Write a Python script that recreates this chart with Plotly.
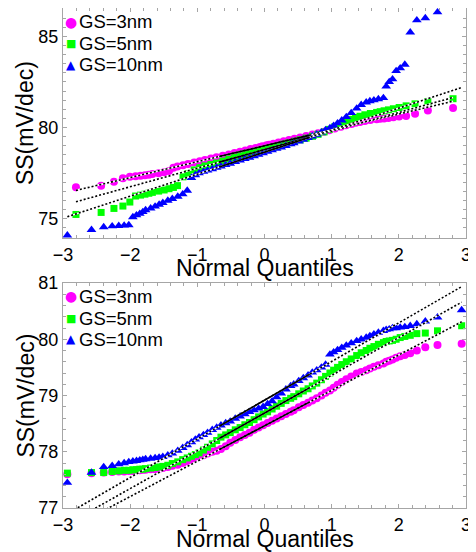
import numpy as np
import plotly.graph_objects as go
from statistics import NormalDist

ND = NormalDist()

# ranks (order statistics) of the plotted points, samples of 200 and 300 devices
RANKS_200 = [1, 2, 3, 4, 5, 6, 7, 8, 9, 10,
             12, 14, 16, 18, 20, 23, 26, 30, 34, 38, 43, 48, 54, 60, 66, 72, 78, 84, 90, 95,
             98, 103,
             106, 111, 117, 123, 129, 135, 141, 147, 153, 158, 163, 167, 171, 175, 178, 181, 183, 185, 187, 189,
             191, 192, 193, 194, 195, 196, 197, 198, 199, 200]
RANKS_300 = [1, 2, 3, 4, 5, 6, 7, 8, 9, 10, 11, 12,
             14, 16, 18, 20, 23, 26, 30, 34, 38, 42, 46, 50, 55, 60, 66, 72, 78, 85, 92, 100,
             108, 116, 124, 132, 140, 148, 156, 164, 172, 180, 188, 196,
             201, 209, 216, 223, 229, 235, 241, 246, 251, 255, 259, 263, 267, 271, 275, 278, 281, 283, 285, 287,
             289, 290, 291, 292, 293, 294, 295, 296, 297, 298, 299, 300]

# ---- top panel: sorted SS values (mV/dec) ----
TOP_3NM = [76.73, 76.81, 77.03, 77.22, 77.30, 77.33, 77.36, 77.39, 77.42, 77.45,
           77.50, 77.55, 77.62, 77.80, 77.87, 77.94, 78.00, 78.08, 78.16, 78.22, 78.30, 78.38, 78.46, 78.53, 78.60, 78.68, 78.75, 78.82, 78.88, 78.94,
           78.97, 79.03,
           79.06, 79.11, 79.18, 79.25, 79.32, 79.39, 79.46, 79.54, 79.62, 79.69, 79.77, 79.85, 79.95, 80.05, 80.12, 80.20, 80.26, 80.31, 80.36, 80.41,
           80.45, 80.48, 80.50, 80.53, 80.56, 80.60, 80.64, 80.75, 80.93, 81.07]
TOP_5NM = [75.24, 75.35, 75.57, 75.70, 75.92, 76.25, 76.30, 76.35, 76.40, 76.45,
           76.52, 76.58, 76.65, 76.72, 76.82, 77.30, 77.48, 77.68, 77.80, 77.90, 77.98, 78.06, 78.17, 78.27, 78.36, 78.45, 78.53, 78.60, 78.68, 78.74,
           78.77, 78.83,
           78.87, 78.93, 79.01, 79.09, 79.17, 79.25, 79.33, 79.42, 79.52, 79.63, 79.76, 79.90, 80.05, 80.20, 80.32, 80.45, 80.55, 80.62, 80.70, 80.77,
           80.83, 80.87, 80.92, 80.97, 81.03, 81.10, 81.19, 81.30, 81.43, 81.58]
TOP_10NM = [74.10, 74.40, 74.55, 74.60, 74.62, 74.64, 74.66, 75.10, 75.20, 75.28, 75.38, 75.48,
            75.58, 75.68, 75.78, 75.88, 76.00, 76.10, 76.22, 76.35, 76.55, 77.25, 77.40, 77.50, 77.58, 77.65, 77.73, 77.80, 77.87, 77.95, 78.03, 78.12,
            78.20, 78.28, 78.36, 78.44, 78.52, 78.60, 78.68, 78.76, 78.84, 78.92, 79.00, 79.09,
            79.15, 79.25, 79.34, 79.43, 79.52, 79.62, 79.74, 79.86, 79.98, 80.10, 80.24, 80.40, 80.58, 80.80, 81.05, 81.25, 81.38, 81.45, 81.50, 81.56,
            81.62, 82.25, 82.50, 82.65, 83.10, 83.25, 83.45, 85.22, 85.88, 86.00, 86.32, 87.60]

# ---- bottom panel ----
BOT_3NM = [77.60, 77.62, 77.63, 77.64, 77.65, 77.65, 77.66, 77.66, 77.67, 77.67, 77.68, 77.68,
           77.69, 77.69, 77.70, 77.71, 77.73, 77.75, 77.77, 77.80, 77.83, 77.86, 77.89, 77.91, 77.94, 77.97, 78.00, 78.02, 78.05, 78.10, 78.16, 78.21,
           78.26, 78.30, 78.34, 78.39, 78.43, 78.47, 78.51, 78.55, 78.59, 78.63, 78.67, 78.71,
           78.74, 78.79, 78.83, 78.87, 78.91, 78.95, 79.00, 79.05, 79.09, 79.14, 79.19, 79.24, 79.29, 79.34, 79.39, 79.42, 79.45, 79.48, 79.51, 79.54,
           79.57, 79.60, 79.62, 79.64, 79.67, 79.70, 79.72, 79.75, 79.80, 79.86, 79.90, 79.92]
BOT_5NM = [77.62, 77.63, 77.63, 77.65, 77.66, 77.67, 77.67, 77.68, 77.68, 77.69, 77.69, 77.70,
           77.71, 77.72, 77.73, 77.74, 77.76, 77.79, 77.82, 77.86, 77.89, 77.92, 77.95, 77.98, 78.03, 78.08, 78.14, 78.20, 78.26, 78.30, 78.34, 78.39,
           78.43, 78.48, 78.52, 78.57, 78.62, 78.67, 78.71, 78.76, 78.81, 78.86, 78.91, 78.95,
           78.98, 79.03, 79.08, 79.12, 79.17, 79.22, 79.28, 79.34, 79.40, 79.45, 79.50, 79.55, 79.60, 79.65, 79.71, 79.76, 79.80, 79.84, 79.87, 79.91,
           79.94, 79.96, 79.97, 79.98, 80.00, 80.03, 80.05, 80.07, 80.10, 80.11, 80.15, 80.24]
BOT_10NM = [77.45, 77.63, 77.73, 77.75, 77.78, 77.80, 77.82, 77.83, 77.84, 77.85, 77.86, 77.87,
            77.88, 77.89, 77.90, 77.91, 77.94, 77.97, 78.02, 78.07, 78.12, 78.17, 78.22, 78.26, 78.30, 78.34, 78.39, 78.43, 78.47, 78.51, 78.54, 78.59,
            78.63, 78.67, 78.71, 78.74, 78.77, 78.80, 78.85, 78.90, 78.97, 79.04, 79.11, 79.17,
            79.20, 79.26, 79.31, 79.36, 79.41, 79.45, 79.50, 79.55, 79.73, 79.77, 79.81, 79.85, 79.89, 79.93, 79.97, 80.00, 80.03, 80.06, 80.09, 80.12,
            80.15, 80.17, 80.18, 80.20, 80.20, 80.21, 80.22, 80.24, 80.27, 80.32, 80.39, 80.52]

SERIES_NAMES = ["GS=3nm", "GS=5nm", "GS=10nm"]
X_TITLE = "Normal Quantiles"
Y_TITLE = "SS(mV/dec)"
COLORS = ["#ff00ff", "#00ff00", "#0000ff"]
SYMBOLS = ["circle", "square", "triangle-up"]
SIZES = [8, 7, 8.5]
GLYPHS = ["\u25cf", "\u25a0", "\u25b2"]
GLYPH_SIZES = [14, 11, 12]

FONT = "Liberation Sans, Arial, Helvetica, sans-serif"
GRAY = "#a6a6a6"

panels = [
    ("x", "y", [(TOP_3NM, RANKS_200, 200), (TOP_5NM, RANKS_200, 200), (TOP_10NM, RANKS_300, 300)]),
    ("x2", "y2", [(BOT_3NM, RANKS_300, 300), (BOT_5NM, RANKS_300, 300), (BOT_10NM, RANKS_300, 300)]),
]


def normal_quantiles(ranks, n):
    return [ND.inv_cdf((r - 0.5) / n) for r in ranks]


fig = go.Figure()
for xa, ya, sets in panels:
    for k, (vals, ranks, n) in enumerate(sets):
        assert len(vals) == len(ranks)
        fig.add_trace(go.Scatter(
            x=normal_quantiles(ranks, n), y=vals, mode="markers", name=SERIES_NAMES[k],
            marker=dict(symbol=SYMBOLS[k], size=SIZES[k], color=COLORS[k], line=dict(width=0)),
            xaxis=xa, yaxis=ya, showlegend=False, hoverinfo="skip"))
    for vals, ranks, n in sets:
        # reference line through the first and third quartiles (as qqplot does)
        q1y, q3y = np.interp([0.25 * n + 0.5, 0.75 * n + 0.5], ranks, vals)
        q1x, q3x = ND.inv_cdf(0.25), ND.inv_cdf(0.75)
        slope = (q3y - q1y) / (q3x - q1x)
        ext_x = [ND.inv_cdf((ranks[0] - 0.5) / n), ND.inv_cdf((ranks[-1] - 0.5) / n)]
        ext_y = [q1y + slope * (xx - q1x) for xx in ext_x]
        fig.add_trace(go.Scatter(x=ext_x, y=ext_y, mode="lines", line=dict(color="white", width=1.6),
                                 xaxis=xa, yaxis=ya, showlegend=False, hoverinfo="skip"))
        fig.add_trace(go.Scatter(x=[q1x, q3x], y=[q1y, q3y], mode="lines", line=dict(color="black", width=1.6),
                                 xaxis=xa, yaxis=ya, showlegend=False, hoverinfo="skip"))
        fig.add_trace(go.Scatter(x=ext_x, y=ext_y, mode="lines",
                                 line=dict(color="black", width=1.6, dash="2px,2px"),
                                 xaxis=xa, yaxis=ya, showlegend=False, hoverinfo="skip"))

axis_common = dict(
    automargin=False,
    showline=True, linecolor=GRAY, linewidth=1, mirror="ticks",
    ticks="inside", ticklen=4, tickcolor=GRAY, tickwidth=1,
    showgrid=False, zeroline=False,
    tickfont=dict(family=FONT, size=18, color="black"),
)


def minor(step):
    return dict(dtick=step, ticks="inside", ticklen=3, tickcolor=GRAY, showgrid=False)


# the page adds an 8px body margin, so the figure is 8px smaller than the window
fig.update_layout(
    width=468, height=544,
    margin=dict(l=55, r=10, t=0, b=44, autoexpand=False),
    paper_bgcolor="white", plot_bgcolor="white",
    showlegend=False,
    xaxis=dict(domain=[0, 1], anchor="y", range=[-3, 3], dtick=1, minor=minor(0.2), **axis_common),
    yaxis=dict(domain=[0.54, 1], anchor="x", range=[73.95, 86.55], dtick=5, minor=minor(0.5), **axis_common),
    xaxis2=dict(domain=[0, 1], anchor="y2", range=[-3, 3], dtick=1, minor=minor(0.2), **axis_common),
    yaxis2=dict(domain=[0, 0.45], anchor="x2", range=[77, 81], dtick=1, minor=minor(0.2), **axis_common),
)

annotations = []
# axis titles of both panels
for yy in (0.481, -0.061):
    annotations.append(dict(xref="paper", yref="paper", x=0.5, y=yy, xanchor="center", yanchor="middle",
                            text=X_TITLE, showarrow=False, font=dict(family=FONT, size=23, color="black")))
for yy in (0.77, 0.225):
    annotations.append(dict(xref="paper", yref="paper", x=-0.094, y=yy, xanchor="center", yanchor="middle",
                            text=Y_TITLE, textangle=-90, showarrow=False,
                            font=dict(family=FONT, size=23, color="black")))
# legends (one per panel, top-left inside the axes)
legend_rows = {"top": [0.9726, 0.9294, 0.886], "bottom": [0.424, 0.3794, 0.3374]}
for rows in legend_rows.values():
    for k, yy in enumerate(rows):
        annotations.append(dict(xref="paper", yref="paper", x=0.0199, y=yy, xanchor="center", yanchor="middle",
                                text=GLYPHS[k], showarrow=False,
                                font=dict(family="DejaVu Sans", size=GLYPH_SIZES[k], color=COLORS[k])))
        annotations.append(dict(xref="paper", yref="paper", x=0.0335, y=yy, xanchor="left", yanchor="middle",
                                text=SERIES_NAMES[k], showarrow=False,
                                font=dict(family=FONT, size=18.5, color="black")))
fig.update_layout(annotations=annotations)

fig.write_html("out.html")
